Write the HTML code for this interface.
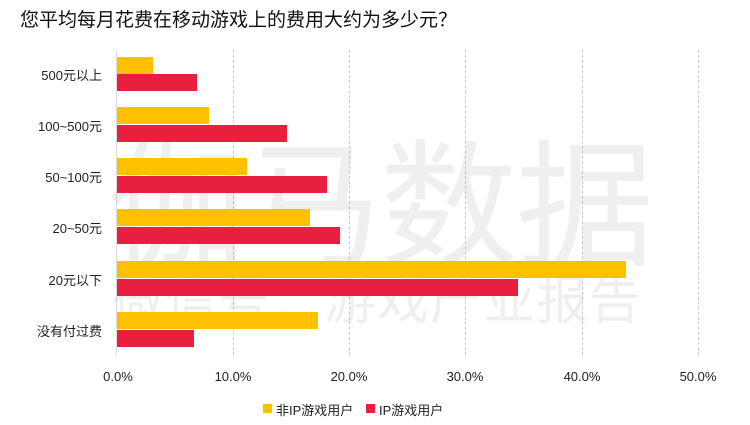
<!DOCTYPE html>
<html><head><meta charset="utf-8"><style>
body{margin:0;width:750px;height:425px;background:#fff;overflow:hidden;position:relative;font-family:"Liberation Sans","Noto Sans CJK SC",sans-serif}
.t{position:absolute;left:20px;top:5px;font-size:19px;color:#111}
.g{position:absolute;top:50px;height:305px;border-left:1px dashed #ccc}
.b{position:absolute;left:117px;height:17px}
.y{background:#FFC000}.r{background:#E8203F}
.l{position:absolute;right:648px;font-size:13px;color:#222;white-space:nowrap}
.x{position:absolute;top:369px;font-size:13px;color:#222;width:60px;text-align:center}
.wm{position:absolute;color:rgba(150,150,150,0.15);white-space:nowrap;font-family:"Noto Sans CJK SC",sans-serif}
</style></head><body>
<div class="t">您平均每月花费在移动游戏上的费用大约为多少元？</div>
<div class="g" style="left:116px;border-left:1px solid #ddd"></div>
<div class="g" style="left:233px"></div><div class="g" style="left:349px"></div>
<div class="g" style="left:465px"></div><div class="g" style="left:582px"></div><div class="g" style="left:698px"></div>
<div class="wm" style="left:108px;top:100px;font-size:138px;line-height:190px;letter-spacing:-2px">伽马数据</div>
<div class="wm" style="left:112px;top:262px;font-size:52px;line-height:70px;letter-spacing:1px">微信号：游戏产业报告</div>
<div class="b y" style="top:57px;width:36px"></div><div class="b r" style="top:74px;width:80px"></div>
<div class="b y" style="top:107px;width:92px"></div><div class="b r" style="top:125px;width:170px"></div>
<div class="b y" style="top:158px;width:130px"></div><div class="b r" style="top:176px;width:210px"></div>
<div class="b y" style="top:209px;width:193px"></div><div class="b r" style="top:227px;width:223px"></div>
<div class="b y" style="top:261px;width:509px"></div><div class="b r" style="top:279px;width:401px"></div>
<div class="b y" style="top:312px;width:201px"></div><div class="b r" style="top:330px;width:77px"></div>
<div class="l" style="top:65px">500元以上</div>
<div class="l" style="top:116px">100~500元</div>
<div class="l" style="top:167px">50~100元</div>
<div class="l" style="top:218px">20~50元</div>
<div class="l" style="top:270px">20元以下</div>
<div class="l" style="top:321px">没有付过费</div>
<div class="x" style="left:88px">0.0%</div><div class="x" style="left:203px">10.0%</div>
<div class="x" style="left:319px">20.0%</div><div class="x" style="left:435px">30.0%</div>
<div class="x" style="left:552px">40.0%</div><div class="x" style="left:668px">50.0%</div>
<div style="position:absolute;top:404px;left:263px;width:9px;height:9px;background:#FFC000"></div>
<div style="position:absolute;top:400px;left:276px;font-size:13px;color:#222">非IP游戏用户</div>
<div style="position:absolute;top:404px;left:366px;width:9px;height:9px;background:#E8203F"></div>
<div style="position:absolute;top:400px;left:379px;font-size:13px;color:#222">IP游戏用户</div>
</body></html>
